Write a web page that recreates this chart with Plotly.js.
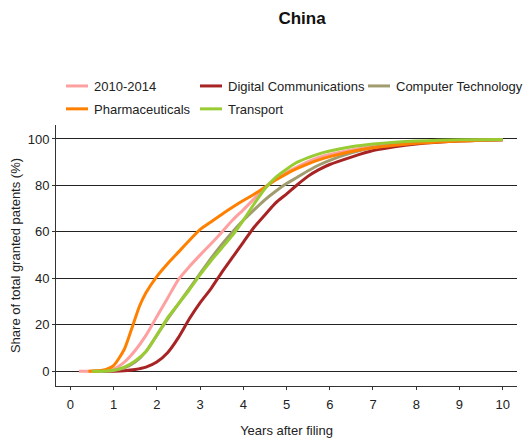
<!DOCTYPE html>
<html>
<head>
<meta charset="utf-8">
<script src="https://cdn.plot.ly/plotly-3.0.1.min.js"></script>
<style>
  html, body { margin: 0; padding: 0; background: #fff; }
  #chart { width: 528px; height: 441px; }
</style>
</head>
<body>
<div id="chart"></div>
<script>
// ---- Data ----
const chartTitle = "China";
const xAxisTitle = "Years after filing";
const yAxisTitle = "Share of total granted patents (%)";
const xTicks = [0, 1, 2, 3, 4, 5, 6, 7, 8, 9, 10];
const yTicks = [0, 20, 40, 60, 80, 100];

const seriesNames = ["2010-2014", "Digital Communications", "Computer Technology", "Pharmaceuticals", "Transport"];

const allYears   = [0.2, 0.5, 0.75, 1.0, 1.25, 1.5, 1.75, 2.0, 2.25, 2.5, 2.75, 3.0, 3.25, 3.5, 3.75, 4.0, 4.25, 4.5, 4.75, 5.0, 5.25, 5.5, 5.75, 6.0, 6.5, 7.0, 7.5, 8.0, 8.5, 9.0, 9.5, 10.0];
const allShare   = [0, 0.1, 0.3, 1.0, 4.0, 9.0, 15.5, 23.5, 31.5, 39.5, 45.0, 50.0, 54.8, 59.8, 65.0, 69.5, 74.2, 79.2, 82.8, 85.5, 88.0, 90.2, 92.0, 93.3, 95.3, 96.8, 97.8, 98.5, 99.0, 99.3, 99.5, 99.7];

const digitalYears = [0.75, 1.0, 1.25, 1.5, 1.75, 2.0, 2.25, 2.5, 2.75, 3.0, 3.25, 3.5, 3.75, 4.0, 4.25, 4.5, 4.75, 5.0, 5.25, 5.5, 5.75, 6.0, 6.5, 7.0, 7.5, 8.0, 8.5, 9.0, 9.5, 10.0];
const digitalShare = [0, 0.1, 0.3, 0.8, 1.8, 4.0, 8.0, 14.5, 22.5, 29.5, 35.5, 42.5, 49.0, 55.5, 62.0, 67.3, 72.5, 76.3, 80.3, 84.0, 86.8, 89.0, 92.2, 95.0, 96.6, 97.8, 98.6, 99.1, 99.4, 99.6];

const computerYears = [0.5, 0.75, 1.0, 1.25, 1.5, 1.75, 2.0, 2.25, 2.5, 2.75, 3.0, 3.25, 3.5, 3.75, 4.0, 4.25, 4.5, 4.75, 5.0, 5.25, 5.5, 5.75, 6.0, 6.5, 7.0, 7.5, 8.0, 8.5, 9.0, 9.5, 10.0];
const computerShare = [0, 0.1, 0.4, 1.5, 4.0, 8.5, 15.5, 22.5, 29.0, 35.5, 42.0, 48.5, 54.5, 60.0, 65.0, 69.5, 73.8, 77.5, 80.8, 83.5, 86.3, 88.8, 90.8, 94.0, 96.3, 97.6, 98.5, 99.0, 99.3, 99.5, 99.7];

const pharmaYears = [0.42, 0.75, 1.0, 1.25, 1.45, 1.6, 1.75, 2.0, 2.25, 2.5, 2.75, 3.0, 3.25, 3.5, 3.75, 4.0, 4.25, 4.5, 4.75, 5.0, 5.25, 5.5, 5.75, 6.0, 6.5, 7.0, 7.5, 8.0, 8.5, 9.0, 9.5, 10.0];
const pharmaShare = [0, 0.5, 2.5, 9.5, 20.0, 28.0, 33.8, 40.8, 46.3, 51.3, 56.3, 61.0, 64.3, 67.5, 70.6, 73.5, 76.2, 79.2, 82.3, 85.0, 87.3, 89.3, 91.0, 92.4, 94.6, 96.2, 97.3, 98.1, 98.7, 99.1, 99.4, 99.6];

const transportYears = [0.5, 0.75, 1.0, 1.25, 1.5, 1.75, 2.0, 2.25, 2.5, 2.75, 3.0, 3.25, 3.5, 3.75, 4.0, 4.25, 4.5, 4.75, 5.0, 5.25, 5.5, 5.75, 6.0, 6.5, 7.0, 7.5, 8.0, 8.5, 9.0, 9.5, 10.0];
const transportShare = [0, 0.1, 0.5, 1.8, 4.5, 8.5, 15.5, 23.0, 29.0, 35.0, 41.5, 47.5, 53.0, 58.5, 65.0, 72.0, 78.6, 83.5, 87.0, 90.0, 92.0, 93.6, 94.8, 96.6, 97.8, 98.6, 99.1, 99.4, 99.6, 99.7, 99.8];

const colors = ["#FFA0A0", "#A82424", "#A09C6E", "#FF8000", "#99CC33"];

// ---- Traces (draw order: later ones on top) ----
const xs = [allYears, digitalYears, computerYears, pharmaYears, transportYears];
const ys = [allShare, digitalShare, computerShare, pharmaShare, transportShare];
const legendOf = ["legend", "legend2", "legend3", "legend", "legend2"];

const traces = seriesNames.map((name, i) => ({
  type: "scatter",
  mode: "lines",
  name: name,
  x: xs[i],
  y: ys[i],
  legend: legendOf[i],
  legendgroup: "g" + i,
  line: { color: colors[i], width: 3, shape: "spline", smoothing: 0.6 }
}));

const fontFamily = "'Liberation Sans', Arial, sans-serif";
const legendTop = (386 - 71) / 261;
const legendCommon = {
  xanchor: "left", yanchor: "top",
  orientation: "v",
  bgcolor: "rgba(0,0,0,0)",
  borderwidth: 0,
  tracegroupgap: 3,
  font: { family: fontFamily, size: 13, color: "#222" },
  itemclick: false, itemdoubleclick: false
};

const layout = {
  width: 528,
  height: 441,
  paper_bgcolor: "#fff",
  plot_bgcolor: "#fff",
  font: { family: fontFamily, size: 13, color: "#222" },
  margin: { l: 56, r: 11, t: 125, b: 55, pad: 0, autoexpand: false },
  title: {
    text: "<b>" + chartTitle + "</b>",
    font: { family: fontFamily, size: 17, color: "#111" },
    xref: "container", yref: "container",
    x: 302 / 528, xanchor: "center",
    y: 1 - 18 / 441, yanchor: "middle"
  },
  showlegend: true,
  legend:  Object.assign({}, legendCommon, { x: (54 - 56) / 461,  y: legendTop }),
  legend2: Object.assign({}, legendCommon, { x: (188 - 56) / 461, y: legendTop }),
  legend3: Object.assign({}, legendCommon, { x: (356 - 56) / 461, y: legendTop }),
  xaxis: {
    range: [-0.33, 10.33],
    tickmode: "array",
    tickvals: xTicks,
    ticktext: xTicks.map(String),
    showgrid: false,
    zeroline: false,
    showline: true,
    linecolor: "#333",
    linewidth: 1,
    ticks: "outside",
    ticklen: 3,
    tickcolor: "#333",
    ticklabelstandoff: 3,
    tickfont: { family: fontFamily, size: 13, color: "#222" },
    title: { text: xAxisTitle, font: { family: fontFamily, size: 13, color: "#222" } }
  },
  yaxis: {
    range: [-6.3, 106],
    tickmode: "array",
    tickvals: yTicks,
    ticktext: yTicks.map(String),
    showgrid: true,
    gridcolor: "#222",
    gridwidth: 1,
    zeroline: false,
    showline: true,
    linecolor: "#333",
    linewidth: 1,
    ticks: "outside",
    ticklen: 3,
    tickcolor: "#333",
    tickfont: { family: fontFamily, size: 13, color: "#222" },
    title: { text: yAxisTitle, font: { family: fontFamily, size: 13, color: "#222" } }
  }
};

Plotly.newPlot("chart", traces, layout, { displayModeBar: false, staticPlot: true }).then(function (gd) {
  // shorten the legend line samples to match the reference's short keys
  gd.querySelectorAll(".legendlines path").forEach(function (p) {
    p.setAttribute("d", "M12,0h22");
  });
});
</script>
</body>
</html>
